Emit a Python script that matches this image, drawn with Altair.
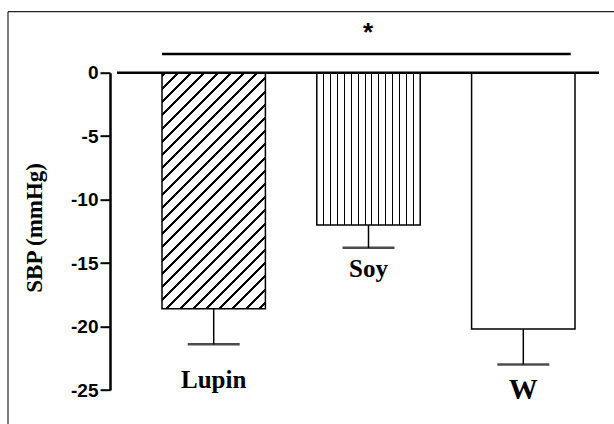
import altair as alt
import pandas as pd

# Change in systolic blood pressure by diet group (mean and SEM)
groups = ["Lupin", "Soy", "W"]
sbp_change = [-18.6, -12.0, -20.2]
sbp_error = [2.8, 1.8, 2.8]
y_ticks = [0, -5, -10, -15, -20, -25]

# Group label placement (baseline, in axis units) and font sizes
label_base = [-24.85, -16.1, -25.7]
label_size = [25, 25, 29]

PAD_LEFT, PAD_TOP = 110, 72.7
PLOT_W, PLOT_H = 504, 317.3
PX_PER_UNIT = PLOT_H / 25.0
BAND_RANGE = [52, 465]
PAD_INNER = 0.332

df = pd.DataFrame({"group": groups, "change": sbp_change, "err": sbp_error})
df["low"] = df["change"] - df["err"]
labels = pd.DataFrame({"group": groups, "ly": label_base, "fs": label_size})

step = (BAND_RANGE[1] - BAND_RANGE[0]) / (len(groups) - PAD_INNER)
bar_w = step * (1 - PAD_INNER)


def stripes(centers, half, total):
    """Hard-edged black stripes on white along a gradient axis (0..1)."""
    stops = [{"offset": 0, "color": "white"}]
    for c in centers:
        a = max(0.0, (c - half) / total)
        b = min(1.0, (c + half) / total)
        if b <= 0 or a >= 1:
            continue
        stops += [
            {"offset": round(a, 5), "color": "white"},
            {"offset": round(a, 5), "color": "black"},
            {"offset": round(b, 5), "color": "black"},
            {"offset": round(b, 5), "color": "white"},
        ]
    stops.append({"offset": 1, "color": "white"})
    return stops


# Vertical hatching: 14 thin lines across the bar, snapped to whole pixels
soy_left = PAD_LEFT + BAND_RANGE[0] + step
soy_lines = [int(soy_left + bar_w * k / 15) + 0.5 - soy_left for k in range(1, 15)]
soy_fill = {
    "gradient": "linear", "x1": 0, "y1": 0, "x2": 1, "y2": 0,
    "stops": stripes(soy_lines, 0.6, bar_w),
}

# Diagonal "/" hatching: lines x + y = c inside the bar's box
lup_h = -sbp_change[0] * PX_PER_UNIT
r = bar_w / lup_h
k = (r + 1) / (r * r + 1)
span = bar_w + lup_h
diag = []
c = 3.1
while c < span + 3:
    diag.append(c)
    c += 13.2
lupin_fill = {
    "gradient": "linear", "x1": 0, "y1": 0, "x2": round(r * k, 5), "y2": round(k, 5),
    "stops": stripes(diag, 1.45, span),
}

fills = {"Lupin": lupin_fill, "Soy": soy_fill, "W": "white"}

x_enc = alt.X(
    "group:N",
    scale=alt.Scale(domain=groups, range=BAND_RANGE, paddingInner=PAD_INNER,
                    paddingOuter=0, round=False),
    axis=None,
)
y_axis = alt.Axis(
    values=y_ticks,
    labelExpr="toString(datum.value)",
    title="SBP (mmHg)",
    titleFont="Liberation Serif",
    titleFontSize=23,
    titleFontWeight="bold",
    titleColor="black",
    titleAngle=270,
    titleAlign="center",
    titleBaseline="alphabetic",
    titleX=-69,
    titleY=PLOT_H / 2 - 4,
    labelFont="Liberation Sans",
    labelFontSize=19,
    labelFontWeight="bold",
    labelColor="black",
    labelPadding=2,
    tickSize=10,
    tickWidth=2,
    tickColor="black",
    domainColor="black",
    domainWidth=2.5,
    grid=False,
)
y_scale = alt.Scale(domain=[-25, 0], nice=False)

one = pd.DataFrame({"k": [0]})

bars = [
    alt.Chart(df)
    .transform_filter(alt.datum.group == g)
    .mark_bar(fill=fills[g], stroke="black", strokeWidth=1.5)
    .encode(x=x_enc, y=alt.Y("change:Q", scale=y_scale, axis=y_axis))
    for g in groups
]

err_line = alt.Chart(df).mark_rule(color="black", strokeWidth=1.5).encode(
    x=x_enc, y="change:Q", y2="low:Q"
)
err_cap = alt.Chart(df).mark_tick(
    color="black", size=52, thickness=2.5, orient="horizontal"
).encode(x=x_enc, y="low:Q")

group_text = alt.Chart(labels).mark_text(
    font="Liberation Serif", fontWeight="bold", color="black",
    align="center", baseline="alphabetic",
).encode(
    x=x_enc, y="ly:Q", text="group:N", size=alt.Size("fs:Q", scale=None, legend=None)
)

zero_line = alt.Chart(one).mark_rule(color="black", strokeWidth=2.5).encode(
    y=alt.datum(0), x=alt.value(7), x2=alt.value(489)
)
sig_line = alt.Chart(one).mark_rule(color="black", strokeWidth=2.5).encode(
    y=alt.datum(1.47), x=alt.value(52), x2=alt.value(460.7)
)
sig_star = alt.Chart(one).mark_text(
    text="*", font="Liberation Sans", fontWeight="bold", fontSize=26,
    color="black", align="center", baseline="alphabetic",
).encode(y=alt.datum(2.5), x=alt.value(258))

frame_left = alt.Chart(one).mark_rule(color="#222", strokeWidth=1.2).encode(
    x=alt.value(-102), y=alt.value(-61), y2=alt.value(400)
)
frame_top = alt.Chart(one).mark_rule(color="#222", strokeWidth=1.2).encode(
    x=alt.value(-102), x2=alt.value(520), y=alt.value(-61)
)

chart = (
    alt.layer(
        frame_left, frame_top, *bars, err_line, err_cap, zero_line,
        sig_line, sig_star, group_text,
    )
    .properties(
        width=PLOT_W,
        height=PLOT_H,
        padding={"left": PAD_LEFT, "top": PAD_TOP, "right": 0, "bottom": 34},
        autosize=alt.AutoSizeParams(type="none"),
        background="white",
    )
    .configure_view(stroke=None)
)

chart.save("out.html", embed_options={"renderer": "svg", "actions": False})
